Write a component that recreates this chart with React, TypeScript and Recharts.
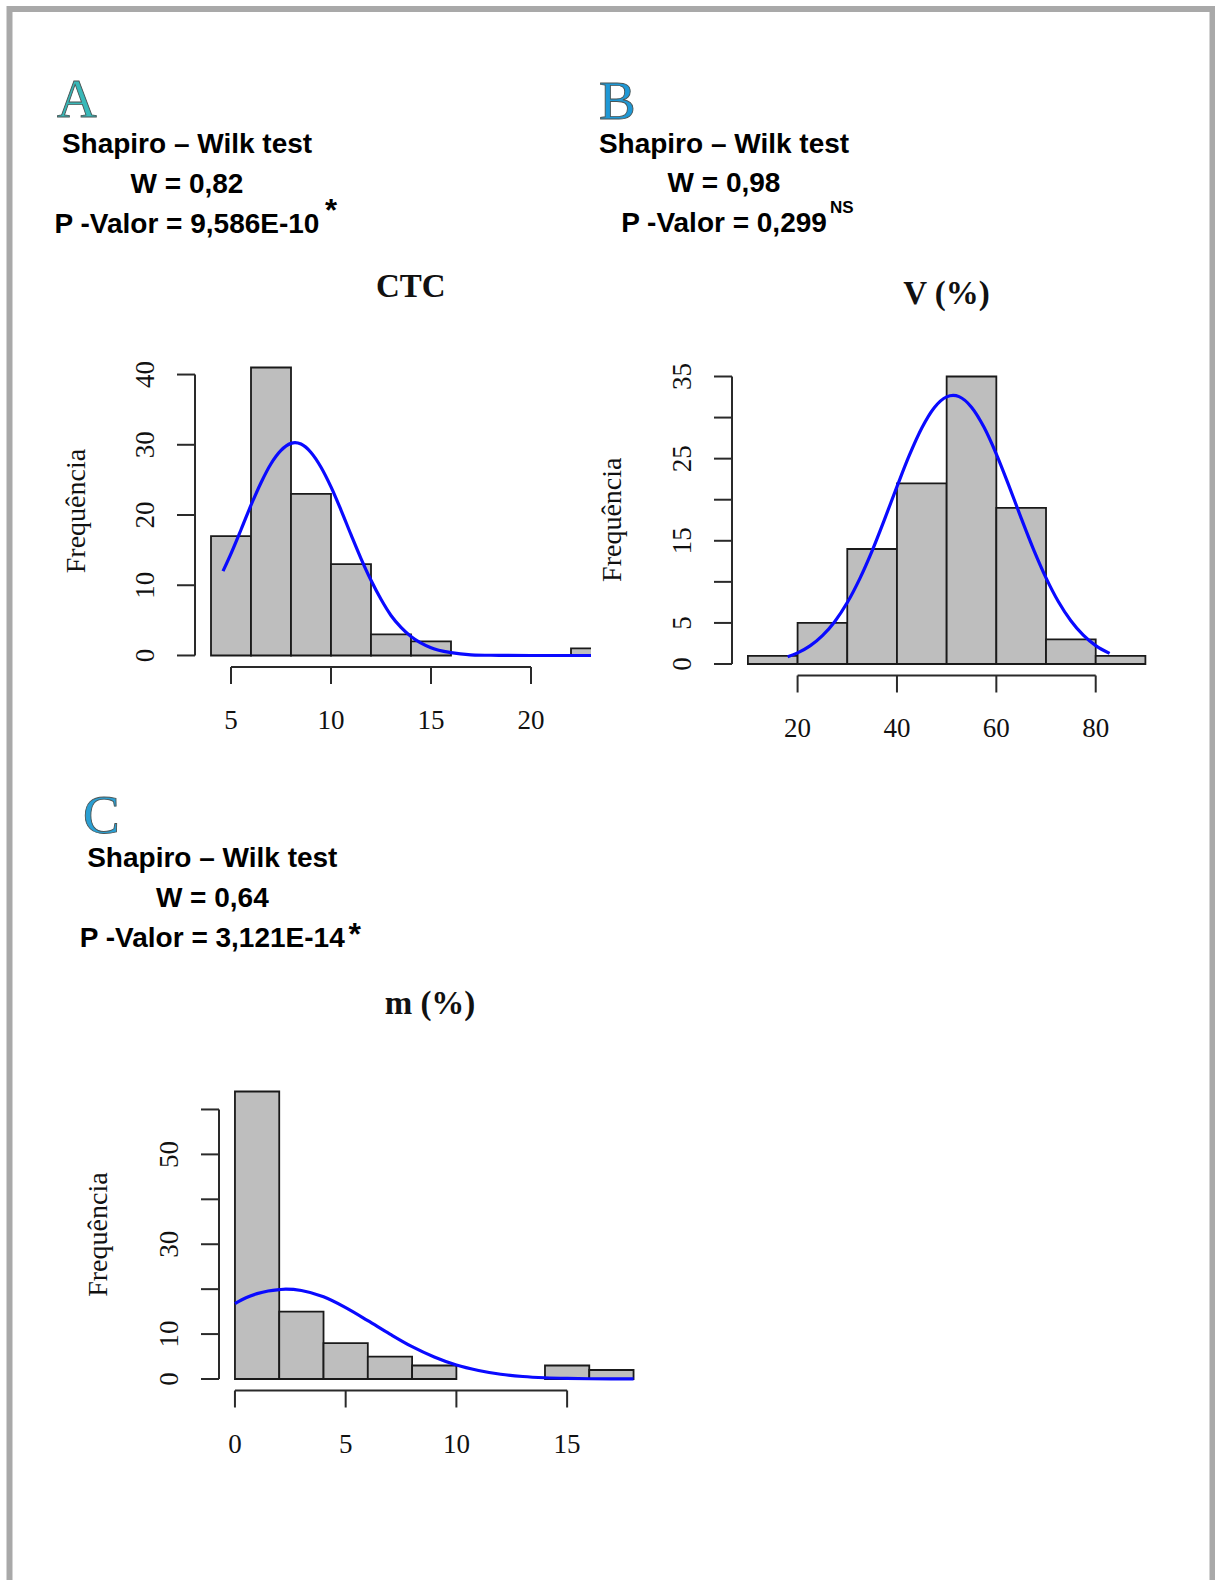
import React from 'react';
import { ComposedChart, Line, XAxis, YAxis, ReferenceArea, ReferenceLine } from 'recharts';

// ---------- Panel A: CTC ----------
const CTC_EDGES = [4, 6, 8, 10, 12, 14, 16, 18, 20, 22, 24];
const CTC_COUNTS = [17, 41, 23, 13, 3, 2, 0, 0, 0, 1];
const CTC_CURVE_X = [4.6, 5, 5.5, 6, 6.5, 7, 7.5, 8, 8.2, 8.5, 9, 9.5, 10, 10.5, 11, 11.5, 12, 12.5, 13, 13.5, 14, 15, 16, 17, 18, 20, 22, 24];
const CTC_CURVE_Y = [12.0, 14.5, 17.9, 21.4, 24.6, 27.3, 29.2, 30.2, 30.3, 30.1, 28.9, 26.8, 24.0, 20.7, 17.2, 13.8, 10.7, 8.0, 5.7, 4.0, 2.7, 1.1, 0.4, 0.1, 0.03, 0, 0, 0];
const CTC_X_TICKS = [5, 10, 15, 20];
const CTC_Y_TICKS = [0, 10, 20, 30, 40];
const CTC_Y_LABELS = [0, 10, 20, 30, 40];

// ---------- Panel B: V (%) ----------
const V_EDGES = [10, 20, 30, 40, 50, 60, 70, 80, 90];
const V_COUNTS = [1, 5, 14, 22, 35, 19, 3, 1];
const V_CURVE_X = [18, 20, 22.5, 25, 27.5, 30, 32.5, 35, 37.5, 40, 42.5, 45, 47.5, 50, 51.3, 52.5, 55, 57.5, 60, 62.5, 65, 67.5, 70, 72.5, 75, 77.5, 80, 82.8];
const V_CURVE_Y = [0.89, 1.35, 2.2, 3.45, 5.18, 7.48, 10.37, 13.78, 17.61, 21.59, 25.42, 28.73, 31.2, 32.52, 32.7, 32.55, 31.27, 28.85, 25.56, 21.75, 17.76, 13.93, 10.49, 7.58, 5.27, 3.51, 2.24, 1.3];
const V_X_TICKS = [20, 40, 60, 80];
const V_Y_TICKS = [0, 5, 10, 15, 20, 25, 30, 35];
const V_Y_LABELS = [0, 5, 15, 25, 35];

// ---------- Panel C: m (%) ----------
const M_EDGES = [0, 2, 4, 6, 8, 10, 12, 14, 16, 18];
const M_COUNTS = [64, 15, 8, 5, 3, 0, 0, 3, 2];
const M_CURVE_X = [0, 0.5, 1, 1.5, 2, 2.3, 3, 4, 5, 6, 7, 8, 9, 10, 11, 12, 13, 14, 15, 16, 17, 18];
const M_CURVE_Y = [16.8, 18.1, 19.0, 19.6, 19.9, 20.0, 19.7, 18.3, 15.9, 13.0, 10.0, 7.2, 4.9, 3.1, 1.9, 1.06, 0.56, 0.28, 0.13, 0.06, 0.02, 0.01];
const M_X_TICKS = [0, 5, 10, 15];
const M_Y_TICKS = [0, 10, 20, 30, 40, 50, 60];
const M_Y_LABELS = [0, 10, 30, 50];

const SERIF = '"Liberation Serif", "Times New Roman", Times, serif';
const SANS = '"Liberation Sans", Arial, Helvetica, sans-serif';
const AXIS = '#2a2a2a';

const LEFT_GUTTER = 160;
const TOP_GAP = 20;
const RIGHT_GAP = 20;
const BOTTOM_GUTTER = 100;

type HistProps = {
  plotLeft: number;
  plotTop: number;
  plotW: number;
  plotH: number;
  edges: number[];
  counts: number[];
  curveX: number[];
  curveY: number[];
  xDomain: [number, number];
  yDomain: [number, number];
  xTicks: number[];
  yTicks: number[];
  yLabels: number[];
};

function Histogram(props: HistProps) {
  const { plotLeft, plotTop, plotW, plotH, edges, counts, curveX, curveY, xDomain, yDomain, xTicks, yTicks, yLabels } = props;
  const curve = curveX.map((x, i) => ({ x, y: curveY[i] }));
  const width = plotW + LEFT_GUTTER + RIGHT_GAP;
  const height = plotH + TOP_GAP + BOTTOM_GUTTER;
  const xLabelBaseline = TOP_GAP + plotH + 62;
  const yLabelX = LEFT_GUTTER - 50;

  const YTick = (p: any) => {
    const v = p.payload.value;
    if (!yLabels.includes(v)) return <g />;
    return (
      <text
        x={yLabelX}
        y={p.y}
        transform={`rotate(-90 ${yLabelX} ${p.y})`}
        textAnchor="middle"
        dominantBaseline="central"
        fontFamily={SERIF}
        fontSize={27}
        fill="#111"
      >
        {v}
      </text>
    );
  };
  const XTick = (p: any) => (
    <text x={p.x} y={xLabelBaseline} textAnchor="middle" fontFamily={SERIF} fontSize={27} fill="#111">
      {p.payload.value}
    </text>
  );

  return (
    <div style={{ position: 'absolute', left: plotLeft - LEFT_GUTTER, top: plotTop - TOP_GAP, width, height }}>
      <ComposedChart
        width={width}
        height={height}
        data={curve}
        margin={{ top: TOP_GAP, right: RIGHT_GAP, bottom: 0, left: 0 }}
      >
        <XAxis
          type="number"
          dataKey="x"
          domain={xDomain}
          allowDataOverflow
          ticks={xTicks}
          interval={0}
          height={BOTTOM_GUTTER}
          axisLine={false}
          stroke={AXIS}
          tickLine={{ stroke: AXIS, strokeWidth: 2 }}
          tickSize={17}
          tick={XTick}
        />
        <YAxis
          type="number"
          domain={yDomain}
          allowDataOverflow
          ticks={yTicks}
          interval={0}
          width={LEFT_GUTTER}
          axisLine={false}
          stroke={AXIS}
          tickLine={{ stroke: AXIS, strokeWidth: 2 }}
          tickSize={18}
          tick={YTick}
        />
        {counts.map((c, i) => (
          <ReferenceArea
            key={`bin-${i}`}
            x1={edges[i]}
            x2={edges[i + 1]}
            y1={0}
            y2={c}
            fill="#bebebe"
            fillOpacity={1}
            stroke="#1a1a1a"
            strokeWidth={1.8}
            ifOverflow="hidden"
          />
        ))}
        <ReferenceLine
          segment={[
            { x: xTicks[0], y: yDomain[0] },
            { x: xTicks[xTicks.length - 1], y: yDomain[0] },
          ]}
          stroke={AXIS}
          strokeWidth={2}
          ifOverflow="visible"
        />
        <ReferenceLine
          segment={[
            { x: xDomain[0], y: yTicks[0] },
            { x: xDomain[0], y: yTicks[yTicks.length - 1] },
          ]}
          stroke={AXIS}
          strokeWidth={2}
          ifOverflow="visible"
        />
        <Line
          type="monotone"
          dataKey="y"
          stroke="#0a0aff"
          strokeWidth={3.2}
          dot={false}
          activeDot={false}
          isAnimationActive={false}
        />
      </ComposedChart>
    </div>
  );
}

function PanelLetter({ x, y, letter, fill }: { x: number; y: number; letter: string; fill: string }) {
  return (
    <text x={x} y={y} fontFamily={SERIF} fontSize={55} fill={fill} stroke="#4a5555" strokeWidth={0.9}>
      {letter}
    </text>
  );
}

function StatBlock({ cx, y0, w, p }: { cx: number; y0: number; w: string; p: string }) {
  return (
    <g fontFamily={SANS} fontWeight="bold" fontSize={28} fill="#000" textAnchor="middle">
      <text x={cx} y={y0}>Shapiro – Wilk test</text>
      <text x={cx} y={y0 + 39.5}>{w}</text>
      <text x={cx} y={y0 + 79.5}>{p}</text>
    </g>
  );
}

function YTitle({ x, y }: { x: number; y: number }) {
  return (
    <text
      x={x}
      y={y}
      transform={`rotate(-90 ${x} ${y})`}
      textAnchor="middle"
      dominantBaseline="central"
      fontFamily={SERIF}
      fontSize={28}
      fill="#111"
    >
      Frequência
    </text>
  );
}

export default function App() {
  return (
    <div style={{ position: 'absolute', left: 0, top: 0, width: 1215, height: 1580, background: '#fff', overflow: 'hidden' }}>
      <svg width={1215} height={1580} style={{ position: 'absolute', left: 0, top: 0 }}>
        <rect x={9.5} y={9} width={1203} height={1600} fill="none" stroke="#a9a9a9" strokeWidth={6} />

        {/* Panel A header */}
        <PanelLetter x={57} y={117} letter="A" fill="#38b8b8" />
        <StatBlock cx={187} y0={153.3} w="W = 0,82" p="P -Valor = 9,586E-10" />
        <text x={325} y={221} fontFamily={SANS} fontWeight="bold" fontSize={31}>*</text>
        <text x={410.8} y={297.3} textAnchor="middle" fontFamily={SERIF} fontWeight="bold" fontSize={33} fill="#111">CTC</text>
        <YTitle x={75.5} y={511} />

        {/* Panel B header */}
        <PanelLetter x={599} y={119.3} letter="B" fill="#1e98d6" />
        <StatBlock cx={724} y0={152.7} w="W = 0,98" p="P -Valor = 0,299" />
        <text x={830} y={213.3} fontFamily={SANS} fontWeight="bold" fontSize={17}>NS</text>
        <text x={946.5} y={304} textAnchor="middle" fontFamily={SERIF} fontWeight="bold" fontSize={33} fill="#111">V (%)</text>
        <YTitle x={611.5} y={519.7} />

        {/* Panel C header */}
        <PanelLetter x={83} y={833} letter="C" fill="#2a9fd3" />
        <StatBlock cx={212.3} y0={867.3} w="W = 0,64" p="P -Valor = 3,121E-14" />
        <text x={348.5} y={944.5} fontFamily={SANS} fontWeight="bold" fontSize={32}>*</text>
        <text x={430} y={1014} textAnchor="middle" fontFamily={SERIF} fontWeight="bold" fontSize={33} fill="#111">m (%)</text>
        <YTitle x={98} y={1234.6} />
      </svg>

      <Histogram
        plotLeft={195}
        plotTop={355.5}
        plotW={396}
        plotH={311}
        edges={CTC_EDGES}
        counts={CTC_COUNTS}
        curveX={CTC_CURVE_X}
        curveY={CTC_CURVE_Y}
        xDomain={[3.2, 23]}
        yDomain={[-1.64, 42.64]}
        xTicks={CTC_X_TICKS}
        yTicks={CTC_Y_TICKS}
        yLabels={CTC_Y_LABELS}
      />
      <Histogram
        plotLeft={731.7}
        plotTop={364.5}
        plotW={429.3}
        plotH={310.5}
        edges={V_EDGES}
        counts={V_COUNTS}
        curveX={V_CURVE_X}
        curveY={V_CURVE_Y}
        xDomain={[6.8, 93.2]}
        yDomain={[-1.4, 36.4]}
        xTicks={V_X_TICKS}
        yTicks={V_Y_TICKS}
        yLabels={V_Y_LABELS}
      />
      <Histogram
        plotLeft={218.5}
        plotTop={1079.5}
        plotW={430.5}
        plotH={310.5}
        edges={M_EDGES}
        counts={M_COUNTS}
        curveX={M_CURVE_X}
        curveY={M_CURVE_Y}
        xDomain={[-0.72, 18.72]}
        yDomain={[-2.56, 66.56]}
        xTicks={M_X_TICKS}
        yTicks={M_Y_TICKS}
        yLabels={M_Y_LABELS}
      />
    </div>
  );
}
